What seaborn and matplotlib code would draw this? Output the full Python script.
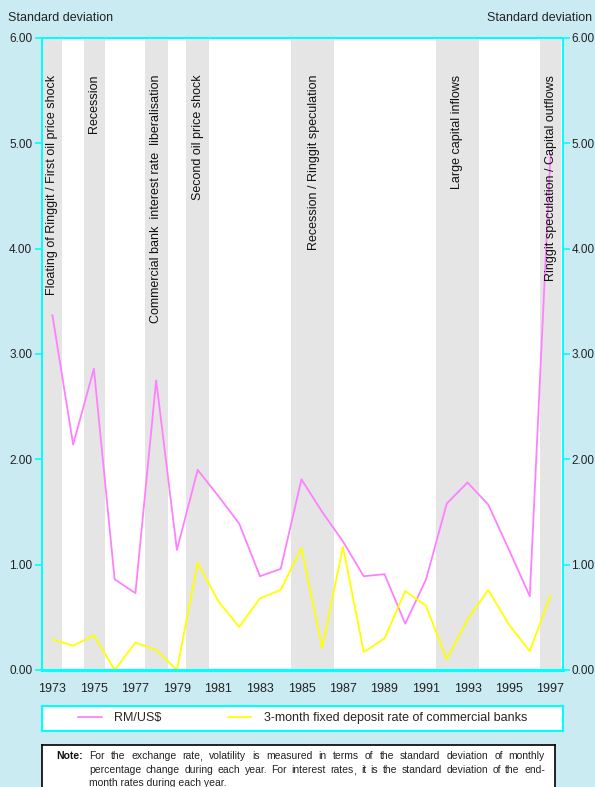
import numpy as np
import pandas as pd
import matplotlib
matplotlib.use("Agg")
import matplotlib.pyplot as plt
import matplotlib.transforms as mtransforms
import seaborn as sns
from matplotlib.lines import Line2D

years = list(range(1973, 1998))
rm_usd = [3.37, 2.14, 2.86, 0.86, 0.73, 2.75, 1.14, 1.90, 1.65, 1.39, 0.89, 0.96,
          1.81, 1.50, 1.22, 0.89, 0.91, 0.44, 0.86, 1.58, 1.78, 1.57, 1.14, 0.70, 4.90]
deposit = [0.29, 0.23, 0.33, 0.00, 0.26, 0.19, 0.00, 1.02, 0.65, 0.41, 0.68, 0.76,
           1.16, 0.21, 1.17, 0.17, 0.30, 0.75, 0.61, 0.10, 0.48, 0.76, 0.43, 0.18, 0.71]
series_names = ["RM/US$", "3-month fixed deposit rate of commercial banks"]

band_spans = [(1972.5, 1973.45), (1974.5, 1975.55), (1977.45, 1978.55), (1979.45, 1980.55),
              (1984.5, 1986.55), (1991.5, 1993.55), (1996.5, 1997.5)]
band_labels = ["Floating of Ringgit / First oil price shock", "Recession",
               "Commercial bank  interest rate  liberalisation", "Second oil price shock",
               "Recession / Ringgit speculation", "Large capital inflows",
               "Ringgit speculation / Capital outflows"]
band_label_x = [1973.0, 1975.0, 1978.0, 1980.0, 1985.6, 1992.5, 1997.0]

y_ticks = [0, 1, 2, 3, 4, 5, 6]
x_label_years = list(range(1973, 1998, 2))

note_lines = ["For the exchange rate, volatility is measured in terms of the standard deviation of monthly",
              "percentage change during each year. For interest rates, it is the standard deviation of the end-",
              "month rates during each year."]

BG = "#cbebf2"
CYAN = "#00ffff"
PINK = "#ff80ff"
YELLOW = "#ffff00"
GRAY = "#e5e5e5"

sns.set_theme(style="white")
plt.rcParams["font.family"] = ["Liberation Sans", "DejaVu Sans"]

df = pd.DataFrame({
    "Year": years * 2,
    "Value": rm_usd + deposit,
    "Series": [series_names[0]] * len(years) + [series_names[1]] * len(years),
})

fig = plt.figure(figsize=(5.95, 7.87), dpi=100)
fig.patch.set_facecolor(BG)
ax = fig.add_axes([42 / 595, 1 - 670 / 787, (563 - 42) / 595, (670 - 38) / 787])
ax.set_facecolor("white")

for (a, b) in band_spans:
    ax.axvspan(a, b, color=GRAY, lw=0, zorder=0)

sns.lineplot(data=df, x="Year", y="Value", hue="Series",
             palette=[PINK, YELLOW], linewidth=1.3, ax=ax, legend=False, zorder=3)

for xl, lab in zip(band_label_x, band_labels):
    ax.text(xl, 5.65, lab, rotation=90, ha="center", va="top", fontsize=9,
            color="#111111", zorder=4)

ax.set_xlim(1972.5, 1997.6)
ax.set_ylim(0, 6)
ax.set_xlabel("")
ax.set_ylabel("")
ax.set_yticks(y_ticks)
ax.set_yticklabels([f"{v:.2f}" for v in y_ticks], fontsize=8.5, color="#222222")
ax.set_xticks(x_label_years)
ax.set_xticklabels([str(y) for y in x_label_years], fontsize=9, color="#222222")
ax.set_xticks(np.arange(1972.5, 1998, 1.0), minor=True)
ax.tick_params(axis="x", which="major", length=0, pad=9)
ax.tick_params(axis="x", which="minor", length=5, width=1.2, color=CYAN, direction="out")
ax.tick_params(axis="y", length=5, width=1.2, color=CYAN, direction="out", pad=2)
for side, sp in ax.spines.items():
    sp.set_color(CYAN)
    sp.set_linewidth(1.3)
ax.spines["bottom"].set_linewidth(2.2)

ax2 = ax.twinx()
ax2.set_ylim(0, 6)
ax2.set_yticks(y_ticks)
ax2.set_yticklabels([f"{v:.2f}" for v in y_ticks], fontsize=8.5, color="#222222")
ax2.tick_params(axis="y", length=5, width=1.2, color=CYAN, direction="out", pad=1)
ax2.grid(False)
for side, sp in ax2.spines.items():
    sp.set_color(CYAN)
    sp.set_linewidth(1.3)

fig.text(8 / 595, 1 - 18 / 787, "Standard deviation", fontsize=9, color="#222222",
         ha="left", va="center")
fig.text(592 / 595, 1 - 18 / 787, "Standard deviation", fontsize=9, color="#222222",
         ha="right", va="center")

# legend box
lax = fig.add_axes([42 / 595, 1 - 731 / 787, (563 - 42) / 595, 25 / 787])
lax.set_facecolor("white")
lax.set_xticks([])
lax.set_yticks([])
for sp in lax.spines.values():
    sp.set_color(CYAN)
    sp.set_linewidth(1.5)
handles = [Line2D([], [], color=PINK, lw=1.3), Line2D([], [], color=YELLOW, lw=1.3)]
lax.legend(handles, series_names, loc="center", ncol=2, frameon=False, fontsize=9,
           handlelength=1.9, columnspacing=5.3, handletextpad=1.0,
           bbox_to_anchor=(0.5, 0.5))

# note box
nax = fig.add_axes([42 / 595, 1 - 790 / 787, (555 - 42) / 595, 45 / 787])
nax.set_facecolor("white")
nax.set_xticks([])
nax.set_yticks([])
for sp in nax.spines.values():
    sp.set_color("black")
    sp.set_linewidth(1.2)

NOTE_FS = 7.5
baselines = [759.0, 773.0, 786.0]
fig.text(56 / 595, 1 - baselines[0] / 787, "Note:", fontsize=NOTE_FS, fontweight="bold",
         va="baseline", ha="left", color="#111111")
renderer = fig.canvas.get_renderer()
x0, x1 = 89.0, 545.0
comma_tf = mtransforms.offset_copy(fig.transFigure, fig=fig, x=-1, y=-1, units="dots")


def word_parts(word):
    if word.endswith(",") and len(word) > 1:
        return [word[:-1], ","]
    return [word]


for i, line in enumerate(note_lines):
    yf = 1 - baselines[i] / 787
    if i == len(note_lines) - 1:
        fig.text(x0 / 595, yf, line, fontsize=NOTE_FS, va="baseline", ha="left",
                 color="#222222")
        continue
    words = line.split(" ")
    groups = []
    for w in words:
        parts = []
        for p in word_parts(w):
            t = fig.text(0, yf, p, fontsize=NOTE_FS, va="baseline", ha="left",
                         color="#222222")
            parts.append((t, t.get_window_extent(renderer).width))
            if p == ",":
                t.set_transform(comma_tf)
        groups.append(parts)
    widths = [sum(pw for _, pw in g) for g in groups]
    gap = (x1 - x0 - sum(widths)) / (len(words) - 1)
    xp = x0
    for g, w in zip(groups, widths):
        xx = xp
        for t, pw in g:
            t.set_x(xx / 595)
            xx += pw
        xp += w + gap

fig.savefig("out.png", dpi=100, facecolor=BG)
